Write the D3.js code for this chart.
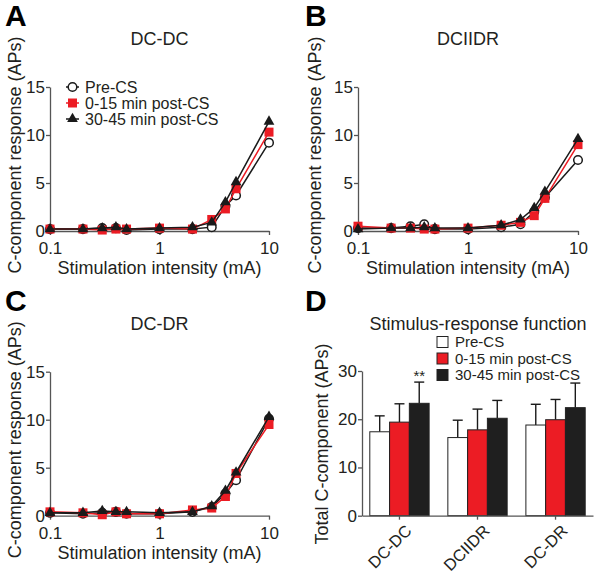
<!DOCTYPE html>
<html><head><meta charset="utf-8">
<script src="https://cdn.jsdelivr.net/npm/d3@7"></script>
<style>body{margin:0;background:#fff}svg{display:block;font-family:"Liberation Sans",Arial,sans-serif}</style>
</head><body>
<svg id="chart" width="600" height="578"></svg>
<script>
// ---- data ----
const intensities = [0.1, 0.2, 0.3, 0.4, 0.5, 1, 2, 3, 4, 5, 10];
const seriesNames = ["Pre-CS", "0-15 min post-CS", "30-45 min post-CS"];
const xTicks = [0.1, 1, 10];
const yTicksLine = [0, 5, 10, 15];
const yTicksBar = [0, 10, 20, 30];

const dcdcPre   = [0.2, 0.2, 0.3, 0.3, 0.1, 0.2, 0.2, 0.4, 2.6, 3.7, 9.2];
const dcdcEarly = [0.2, 0.2, 0.1, 0.2, 0.2, 0.3, 0.2, 1.2, 2.3, 4.4, 10.3];
const dcdcLate  = [0.2, 0.2, 0.3, 0.4, 0.2, 0.3, 0.4, 0.9, 3.0, 5.1, 11.4];

const dciidrPre   = [0.3, 0.3, 0.5, 0.7, 0.2, 0.2, 0.4, 0.7, 2.0, 3.5, 7.4];
const dciidrEarly = [0.5, 0.3, 0.3, 0.2, 0.2, 0.3, 0.6, 0.9, 1.6, 3.4, 9.0];
const dciidrLate  = [0.2, 0.3, 0.3, 0.4, 0.3, 0.3, 0.6, 1.2, 2.4, 4.1, 9.6];

const dcdrPre   = [0.3, 0.2, 0.3, 0.4, 0.2, 0.2, 0.4, 0.9, 2.3, 3.7, 10.1];
const dcdrEarly = [0.4, 0.3, 0.1, 0.4, 0.2, 0.2, 0.6, 0.8, 2.0, 4.4, 9.5];
const dcdrLate  = [0.3, 0.3, 0.5, 0.4, 0.4, 0.3, 0.4, 1.0, 2.6, 4.5, 10.3];

const barGroups = ["DC-DC", "DCIIDR", "DC-DR"];
const totalPre   = [17.4, 16.2, 18.8];
const totalEarly = [19.4, 17.8, 19.9];
const totalLate  = [23.3, 20.2, 22.4];
const errPre   = [3.3, 3.6, 4.3];
const errEarly = [3.8, 4.3, 4.2];
const errLate  = [4.4, 3.7, 5.1];
const significance = ["**", "", ""];

// ---- style ----
const RED = "#ec1c24", BLK = "#1a1a1a", TXT = "#231f20", AX = "#555";
const svg = d3.select("#chart");

function styleAxis(g) {
  g.select(".domain").attr("stroke", AX).attr("stroke-width", 1.3);
  g.selectAll(".tick line").attr("stroke", AX).attr("stroke-width", 1.3);
  g.selectAll(".tick text").attr("fill", TXT).style("font-size", "17px");
}

function linePanel(cfg) {
  const x = d3.scaleLog().domain([0.1, 10]).range([cfg.x0, cfg.x1]);
  const y = d3.scaleLinear().domain([0, 15]).range([cfg.y0, cfg.y0 - 144]);
  const g = svg.append("g");
  g.append("text").attr("x", cfg.lx).attr("y", cfg.ly).attr("font-size", 30).attr("font-weight", "bold")
    .attr("fill", "#000").text(cfg.letter);
  g.append("text").attr("x", (cfg.x0 + cfg.x1) / 2).attr("y", cfg.ty).attr("text-anchor", "middle")
    .attr("font-size", 18).attr("fill", TXT).text(cfg.title);
  const ya = g.append("g").attr("transform", `translate(${cfg.x0},0)`)
    .call(d3.axisLeft(y).tickValues(yTicksLine).tickSize(4).tickPadding(1).tickSizeOuter(0));
  styleAxis(ya);
  const xa = g.append("g").attr("transform", `translate(0,${cfg.y0})`)
    .call(d3.axisBottom(x).tickValues(xTicks).tickFormat(d3.format("")).tickSize(4).tickPadding(7).tickSizeOuter(0));
  styleAxis(xa);
  g.append("text").attr("x", (cfg.x0 + cfg.x1) / 2).attr("y", cfg.y0 + 43).attr("text-anchor", "middle")
    .attr("font-size", 18).attr("fill", TXT).text("Stimulation intensity (mA)");
  g.append("text").attr("transform", `translate(${cfg.yl},${cfg.y0 - 76}) rotate(-90)`).attr("dy", "0.35em")
    .attr("text-anchor", "middle").attr("font-size", 18).attr("fill", TXT).text("C-component response (APs)");

  const series = [
    {vals: cfg.pre, color: BLK, mark: "circle"},
    {vals: cfg.early, color: RED, mark: "square"},
    {vals: cfg.late, color: BLK, mark: "triangle"}
  ];
  const line = d3.line().x(d => x(d[0])).y(d => y(d[1]));
  series.forEach(s => {
    const pts = intensities.map((v, i) => [v, s.vals[i]]);
    g.append("path").datum(pts).attr("d", line).attr("fill", "none").attr("stroke", s.color).attr("stroke-width", 1.5);
    drawMarks(g, pts.map(p => [x(p[0]), y(p[1])]), s.mark, s.color);
  });
  if (cfg.legend) {
    series.forEach((s, i) => {
      const ly = 87 + i * 16;
      g.append("line").attr("x1", cfg.x0 + 16).attr("x2", cfg.x0 + 29).attr("y1", ly).attr("y2", ly)
        .attr("stroke", s.color).attr("stroke-width", 1.5);
      drawMarks(g, [[cfg.x0 + 22.5, ly]], s.mark, s.color);
      g.append("text").attr("x", cfg.x0 + 35).attr("y", ly).attr("dy", "0.36em").attr("font-size", 16)
        .attr("fill", TXT).text(seriesNames[i]);
    });
  }
}

function drawMarks(g, pts, mark, color) {
  if (mark === "circle") {
    g.selectAll(null).data(pts).enter().append("circle").attr("cx", d => d[0]).attr("cy", d => d[1]).attr("r", 4.3)
      .attr("fill", "#fff").attr("stroke", color).attr("stroke-width", 1.5);
  } else if (mark === "square") {
    g.selectAll(null).data(pts).enter().append("rect").attr("x", d => d[0] - 4.5).attr("y", d => d[1] - 4.5)
      .attr("width", 9).attr("height", 9).attr("fill", color);
  } else {
    const tri = d3.symbol().type(d3.symbolTriangle).size(50);
    g.selectAll(null).data(pts).enter().append("path").attr("d", tri)
      .attr("transform", d => `translate(${d[0]},${d[1]})`).attr("fill", color);
  }
}

linePanel({letter: "A", lx: 5, ly: 26, title: "DC-DC", ty: 45, x0: 50, x1: 269, y0: 231, yl: 15,
  pre: dcdcPre, early: dcdcEarly, late: dcdcLate, legend: true});
linePanel({letter: "B", lx: 305, ly: 26, title: "DCIIDR", ty: 45, x0: 358, x1: 578, y0: 231, yl: 315,
  pre: dciidrPre, early: dciidrEarly, late: dciidrLate, legend: false});
linePanel({letter: "C", lx: 5, ly: 311, title: "DC-DR", ty: 330, x0: 50, x1: 269, y0: 515.7, yl: 15,
  pre: dcdrPre, early: dcdrEarly, late: dcdrLate, legend: false});

// ---- panel D ----
(function () {
  const g = svg.append("g");
  const x0 = 362, x1 = 593, yb = 515.7;
  const y = d3.scaleLinear().domain([0, 30]).range([yb, yb - 144.7]);
  const xg = d3.scaleBand().domain(barGroups).range([x0, x1]).paddingInner(0.24).paddingOuter(0.1);
  const xs = d3.scaleBand().domain(seriesNames).range([0, xg.bandwidth()]).padding(0);
  g.append("text").attr("x", 305).attr("y", 311).attr("font-size", 30).attr("font-weight", "bold").attr("fill", "#000").text("D");
  g.append("text").attr("x", 478).attr("y", 330).attr("text-anchor", "middle").attr("font-size", 18).attr("fill", TXT)
    .text("Stimulus-response function");
  const vals = [totalPre, totalEarly, totalLate], errs = [errPre, errEarly, errLate];
  const fills = ["#fff", RED, "#1f1f1f"];
  barGroups.forEach((grp, gi) => {
    seriesNames.forEach((s, si) => {
      const bx = xg(grp) + xs(s), w = xs.bandwidth(), v = vals[si][gi], e = errs[si][gi];
      const cx = bx + w / 2;
      g.append("line").attr("x1", cx).attr("x2", cx).attr("y1", y(v)).attr("y2", y(v + e)).attr("stroke", BLK).attr("stroke-width", 1.4);
      g.append("line").attr("x1", cx - 5).attr("x2", cx + 5).attr("y1", y(v + e)).attr("y2", y(v + e)).attr("stroke", BLK).attr("stroke-width", 1.4);
      g.append("rect").attr("x", bx).attr("y", y(v)).attr("width", w).attr("height", yb - y(v))
        .attr("fill", fills[si]).attr("stroke", "#222").attr("stroke-width", 1);
      if (si === 2 && significance[gi]) {
        g.append("text").attr("x", cx).attr("y", y(v + e) - 1).attr("text-anchor", "middle").attr("font-size", 15)
          .attr("fill", TXT).text(significance[gi]);
      }
    });
  });
  const ya = g.append("g").attr("transform", `translate(${x0},0)`)
    .call(d3.axisLeft(y).tickValues(yTicksBar).tickSize(4).tickPadding(1).tickSizeOuter(0));
  styleAxis(ya);
  const xa = g.append("g").attr("transform", `translate(0,${yb})`)
    .call(d3.axisBottom(xg).tickSize(4).tickSizeOuter(0).tickFormat(""));
  styleAxis(xa);
  barGroups.forEach(grp => {
    const cx = xg(grp) + xg.bandwidth() / 2;
    g.append("text").attr("transform", `translate(${cx + 5},${yb + 8}) rotate(-45)`).attr("text-anchor", "end")
      .attr("dy", "0.7em").attr("font-size", 16.5).attr("fill", TXT).text(grp);
  });
  g.append("text").attr("transform", `translate(322,444) rotate(-90)`).attr("dy", "0.35em").attr("text-anchor", "middle")
    .attr("font-size", 18).attr("fill", TXT).text("Total C-component (APs)");
  seriesNames.forEach((s, i) => {
    const ly = 342 + i * 16.5;
    g.append("rect").attr("x", 437).attr("y", ly - 5.5).attr("width", 11).attr("height", 11)
      .attr("fill", fills[i]).attr("stroke", "#222").attr("stroke-width", 1);
    g.append("text").attr("x", 455).attr("y", ly).attr("dy", "0.36em").attr("font-size", 15).attr("fill", TXT).text(s);
  });
})();
</script>
</body></html>
